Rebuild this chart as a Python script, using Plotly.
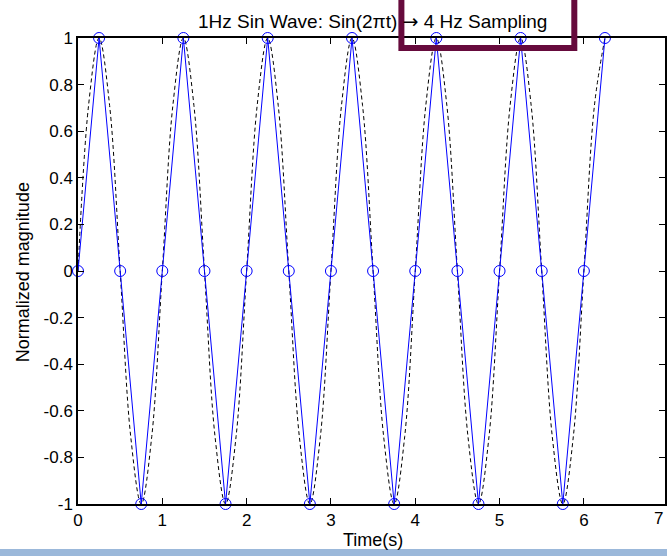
import plotly.graph_objects as go

# Sample times (4 Hz sampling of a 1 Hz sine) and values
t_samples = [0, 0.25, 0.5, 0.75, 1.0, 1.25, 1.5, 1.75, 2.0, 2.25, 2.5, 2.75, 3.0,
             3.25, 3.5, 3.75, 4.0, 4.25, 4.5, 4.75, 5.0, 5.25, 5.5, 5.75, 6.0, 6.25]
y_samples = [0, 1, 0, -1, 0, 1, 0, -1, 0, 1, 0, -1, 0,
             1, 0, -1, 0, 1, 0, -1, 0, 1, 0, -1, 0, 1]

# Continuous (dashed) signal, values at 1/8 s steps
t_cont = [0, 0.125, 0.25, 0.375, 0.5, 0.625, 0.75, 0.875,
          1.0, 1.125, 1.25, 1.375, 1.5, 1.625, 1.75, 1.875,
          2.0, 2.125, 2.25, 2.375, 2.5, 2.625, 2.75, 2.875,
          3.0, 3.125, 3.25, 3.375, 3.5, 3.625, 3.75, 3.875,
          4.0, 4.125, 4.25, 4.375, 4.5, 4.625, 4.75, 4.875,
          5.0, 5.125, 5.25, 5.375, 5.5, 5.625, 5.75, 5.875,
          6.0, 6.125, 6.25]
y_cont = [0, 0.71, 1, 0.71, 0, -0.71, -1, -0.71,
          0, 0.71, 1, 0.71, 0, -0.71, -1, -0.71,
          0, 0.71, 1, 0.71, 0, -0.71, -1, -0.71,
          0, 0.71, 1, 0.71, 0, -0.71, -1, -0.71,
          0, 0.71, 1, 0.71, 0, -0.71, -1, -0.71,
          0, 0.71, 1, 0.71, 0, -0.71, -1, -0.71,
          0, 0.71, 1]

x_ticks = [0, 1, 2, 3, 4, 5, 6]
y_ticks = [-1, -0.8, -0.6, -0.4, -0.2, 0, 0.2, 0.4, 0.6, 0.8, 1]
y_ticktext = ["-1", "-0.8", "-0.6", "-0.4", "-0.2", "0", "0.2", "0.4", "0.6", "0.8", "1"]

FONT = "Liberation Sans, Arial, Helvetica, sans-serif"

fig = go.Figure()
fig.add_trace(go.Scatter(
    x=t_cont, y=y_cont, mode="lines",
    line=dict(color="black", width=1, dash="4px,3px", shape="spline", smoothing=1.0),
    showlegend=False, hoverinfo="skip", cliponaxis=False))
fig.add_trace(go.Scatter(
    x=t_samples, y=y_samples, mode="lines+markers",
    line=dict(color="#0000ff", width=1),
    marker=dict(symbol="circle-open", size=11, color="#0000ff", line=dict(width=1, color="#0000ff")),
    showlegend=False, cliponaxis=False))

px_per_unit = 84.6
plot_w = 667 - 78
fig.update_layout(
    width=667, height=556,
    margin=dict(l=78, r=0, t=38, b=52),
    paper_bgcolor="white", plot_bgcolor="white",
    font=dict(family=FONT, size=17, color="black"),
    xaxis=dict(range=[0, plot_w / px_per_unit], tickvals=x_ticks,
               ticks="inside", ticklen=6, tickcolor="black",
               showline=True, linecolor="black", linewidth=1.5, mirror="ticks",
               showgrid=False, zeroline=False,
               tickfont=dict(family=FONT, size=17)),
    yaxis=dict(range=[-1, 1], tickvals=y_ticks, ticktext=y_ticktext,
               ticks="inside", ticklen=6, tickcolor="black",
               showline=True, linecolor="black", linewidth=1.5, mirror="ticks",
               showgrid=False, zeroline=False,
               tickfont=dict(family=FONT, size=17)),
    shapes=[
        dict(type="rect", xref="paper", yref="paper",
             x0=-0.2, x1=1.1, y0=(504 - 549) / 466, y1=-0.2,
             fillcolor="#9bb8da", line=dict(width=0), layer="above"),
        dict(type="rect", xref="paper", yref="paper",
             x0=(402.5 - 78) / plot_w, x1=(576 - 78) / plot_w,
             y0=(504 - 48) / 466, y1=(504 + 10) / 466,
             fillcolor="rgba(0,0,0,0)", line=dict(color="#660a3c", width=6), layer="above"),
    ],
    annotations=[
        dict(text="1Hz Sin Wave: Sin(2\u03c0t) <span style='font-family:DejaVu Sans'>\u2192</span> 4 Hz Sampling",
             xref="paper", yref="paper",
             x=(374 - 78) / plot_w, y=(504 - 21) / 466, xanchor="center", yanchor="middle",
             showarrow=False, font=dict(family=FONT, size=19)),
        dict(text="Time(s)", xref="paper", yref="paper",
             x=(374 - 78) / plot_w, y=(504 - 540) / 466, xanchor="center", yanchor="middle",
             showarrow=False, font=dict(family=FONT, size=18)),
        dict(text="Normalized magnitude", xref="paper", yref="paper", textangle=-90,
             x=(23 - 78) / plot_w, y=(504 - 272) / 466, xanchor="center", yanchor="middle",
             showarrow=False, font=dict(family=FONT, size=18)),
        dict(text="7", xref="paper", yref="paper",
             x=1.0, y=(504 - 518) / 466, xanchor="right", yanchor="middle",
             showarrow=False, font=dict(family=FONT, size=17)),
    ],
)

fig.write_html("out.html")
